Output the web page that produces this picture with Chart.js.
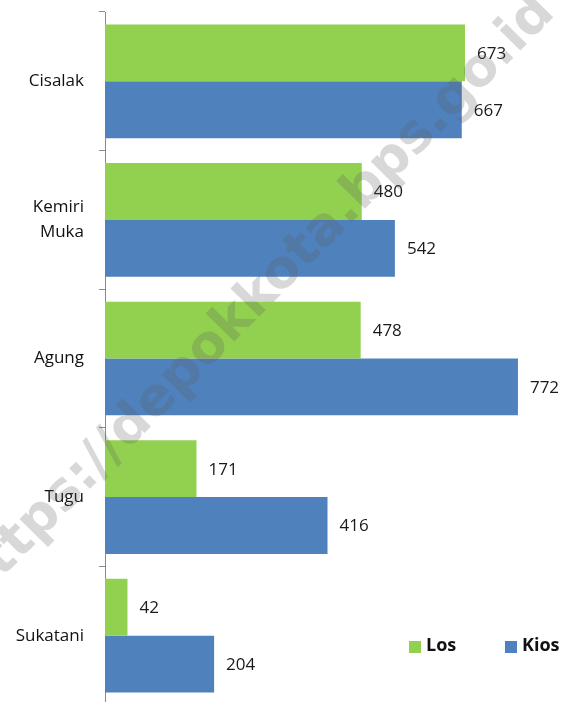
<!DOCTYPE html>
<html>
<head>
<meta charset="utf-8">
<script src="https://cdn.jsdelivr.net/npm/chart.js@4/dist/chart.umd.min.js"></script>
<style>
html,body{margin:0;padding:0;background:#fff;overflow:hidden;width:565px;height:702px;}
#wrap{position:relative;width:565px;height:706px;}
</style>
</head>
<body>
<div id="wrap"><canvas id="c" width="565" height="706"></canvas></div>
<script>
const categories = [["Cisalak"], ["Kemiri", "Muka"], ["Agung"], ["Tugu"], ["Sukatani"]];
const seriesNames = ["Los", "Kios"];
const losValues = [673, 480, 478, 171, 42];
const kiosValues = [667, 542, 772, 416, 204];
const watermarkText = "https://depokkota.bps.go.id";

const GREEN = "#92D050";
const BLUE = "#4F81BD";

const valueLabels = {
  id: "valueLabels",
  afterDatasetsDraw(chart) {
    const ctx = chart.ctx;
    ctx.save();
    ctx.font = "17px 'Open Sans'";
    ctx.fillStyle = "#1a1a1a";
    ctx.textBaseline = "middle";
    ctx.textAlign = "left";
    chart.data.datasets.forEach((ds, i) => {
      chart.getDatasetMeta(i).data.forEach((bar, j) => {
        ctx.fillText(String(ds.data[j]), bar.x + 12, bar.y + 1);
      });
    });
    ctx.restore();
  }
};

const insideLegend = {
  id: "insideLegend",
  afterDatasetsDraw(chart) {
    const ctx = chart.ctx;
    ctx.save();
    ctx.font = "bold 18px 'Open Sans'";
    ctx.textBaseline = "middle";
    ctx.textAlign = "left";
    const items = [[seriesNames[0], GREEN, 409], [seriesNames[1], BLUE, 505]];
    items.forEach(([t, col, x]) => {
      ctx.fillStyle = col;
      ctx.fillRect(x, 641, 12, 12);
      ctx.fillStyle = "#111";
      ctx.fillText(t, x + 17, 646);
    });
    ctx.restore();
  }
};

const watermark = {
  id: "watermark",
  afterDraw(chart) {
    const ctx = chart.ctx;
    ctx.save();
    ctx.translate(256, 300);
    ctx.rotate(-45.5 * Math.PI / 180);
    ctx.font = "bold 50px 'DejaVu Sans'";
    const w = ctx.measureText(watermarkText).width;
    const size = 50 * 830 / w;
    ctx.font = "bold " + size.toFixed(1) + "px 'DejaVu Sans'";
    ctx.fillStyle = "rgba(90,90,90,0.24)";
    ctx.textAlign = "center";
    ctx.textBaseline = "middle";
    ctx.fillText(watermarkText, 0, 0);
    ctx.restore();
  }
};

new Chart(document.getElementById("c"), {
  type: "bar",
  data: {
    labels: categories,
    datasets: [
      { label: seriesNames[0], data: losValues, backgroundColor: GREEN, categoryPercentage: 0.82, barPercentage: 1.0 },
      { label: seriesNames[1], data: kiosValues, backgroundColor: BLUE, categoryPercentage: 0.82, barPercentage: 1.0 }
    ]
  },
  options: {
    indexAxis: "y",
    responsive: false,
    animation: false,
    layout: { padding: { top: 12, bottom: 1, left: 0, right: 0 } },
    plugins: { legend: { display: false }, tooltip: { enabled: false } },
    scales: {
      x: { display: false, min: 0, max: 860 },
      y: {
        afterFit(scale) { scale.width = 105; scale.paddingTop = 0; scale.paddingBottom = 0; },
        border: { display: true, color: "#8a8a8a", width: 1 },
        grid: { display: true, drawOnChartArea: false, drawTicks: true, tickLength: 6, color: "#8a8a8a", offset: true },
        ticks: { color: "#111", font: { family: "'Open Sans'", size: 17, lineHeight: 1.5 }, padding: 15 }
      }
    }
  },
  plugins: [valueLabels, insideLegend, watermark]
});
</script>
</body>
</html>
